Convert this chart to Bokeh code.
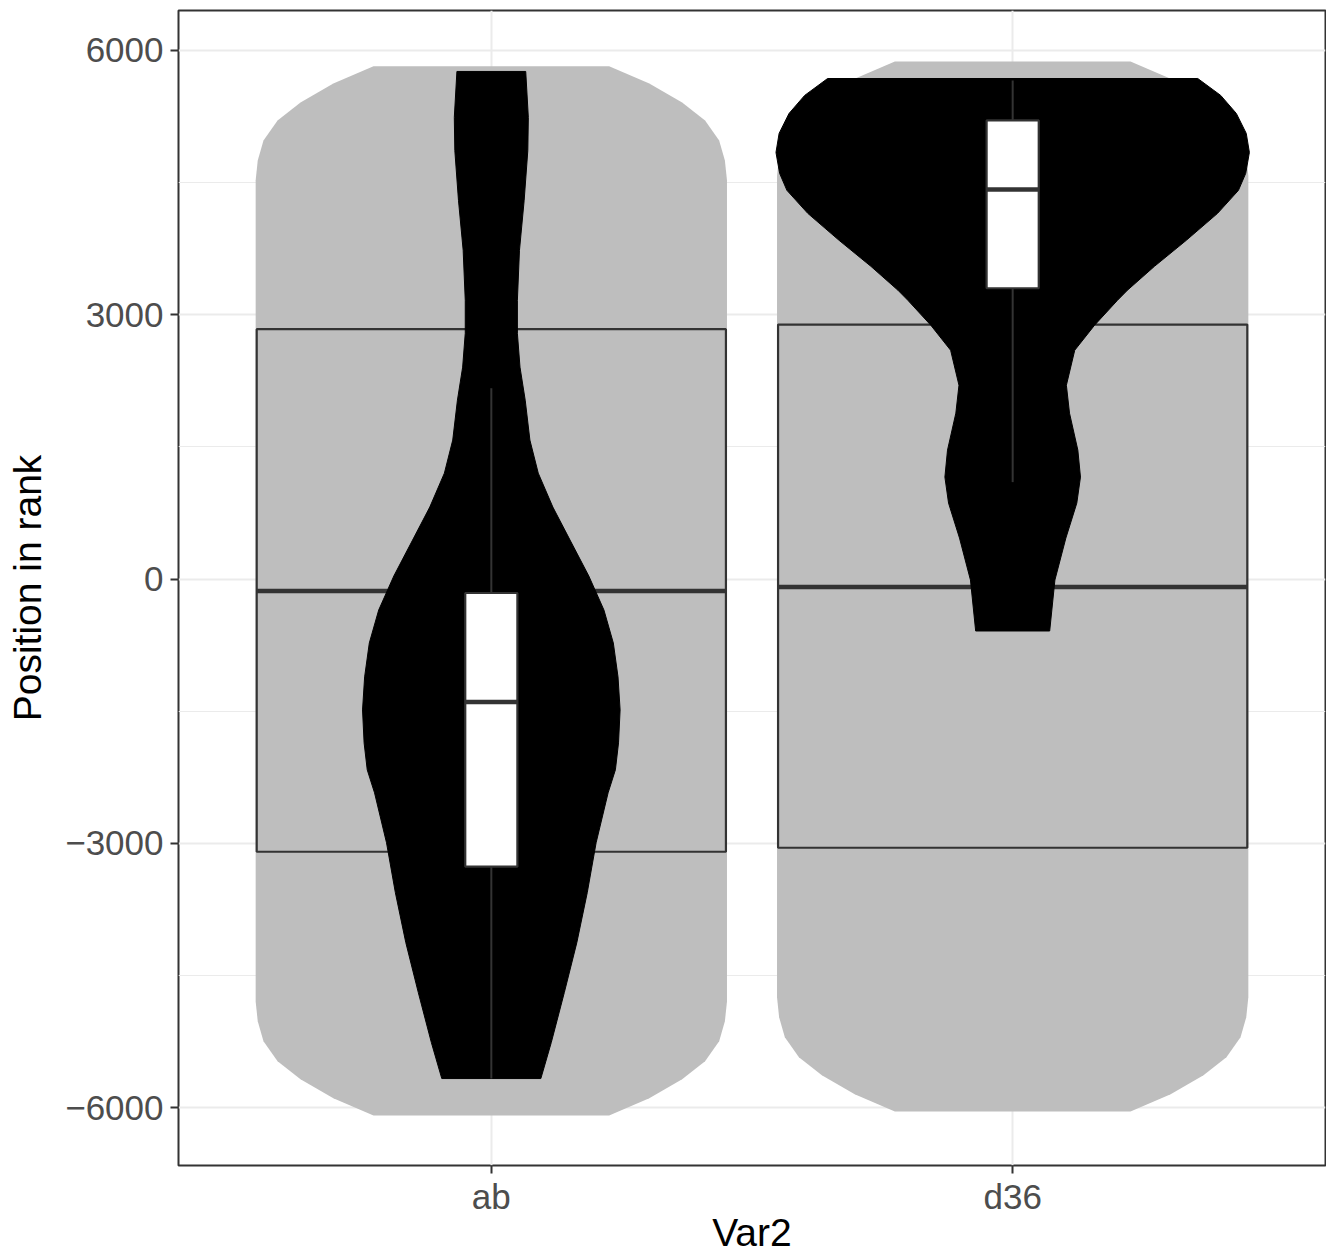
from bokeh.plotting import figure
from bokeh.models import Range1d, FixedTicker, ColumnDataSource
from bokeh.embed import file_html
from bokeh.resources import INLINE

# ---------------- data ----------------
categories = ["ab", "d36"]

# wide grey violins (y value, half-width in category units)
grey_ab_y = [-6091, -5895, -5679, -5475, -5248, -5021, -4795, 4526, 4752, 4979, 5206, 5410, 5626, 5822]
grey_ab_w = [0.226, 0.303, 0.366, 0.410, 0.437, 0.448, 0.452, 0.452, 0.448, 0.437, 0.410, 0.366, 0.303, 0.226]
grey_d36_y = [-6045, -5849, -5633, -5429, -5202, -4975, -4749, 4579, 4805, 5032, 5259, 5463, 5679, 5875]
grey_d36_w = [0.226, 0.303, 0.366, 0.410, 0.437, 0.448, 0.452, 0.452, 0.448, 0.437, 0.410, 0.366, 0.303, 0.226]

# grey (outer) boxplot statistics
outer_q1 = [-3096, -3051]
outer_med = [-136, -91]
outer_q3 = [2836, 2889]

# black violins
black_ab_y = [-5671, -5262, -4695, -4128, -3561, -2994, -2427, -2166, -1860, -1486, -1111, -726,
              -352, 34, 442, 817, 1202, 1577, 2030, 2405, 2790, 3164, 3732, 4299, 4866, 5240, 5762]
black_ab_w = [0.095, 0.115, 0.140, 0.164, 0.184, 0.201, 0.224, 0.238, 0.244, 0.247, 0.243, 0.234,
              0.216, 0.187, 0.151, 0.118, 0.090, 0.074, 0.065, 0.055, 0.050, 0.050, 0.054, 0.063,
              0.070, 0.071, 0.066]
black_d36_y = [-590, -11, 465, 862, 1157, 1463, 1883, 2200, 2597, 2881, 3164, 3278, 3550, 3845,
               4151, 4412, 4605, 4843, 5059, 5285, 5490, 5682]
black_d36_w = [0.071, 0.081, 0.102, 0.123, 0.130, 0.125, 0.109, 0.103, 0.119, 0.157, 0.201, 0.220,
               0.272, 0.333, 0.393, 0.433, 0.447, 0.454, 0.448, 0.429, 0.399, 0.355]

# white (inner) boxplot statistics
inner_lo = [-5671, 1100]
inner_q1 = [-3266, 3301]
inner_med = [-1395, 4423]
inner_q3 = [-159, 5206]
inner_hi = [2166, 5660]

y_ticks = [-6000, -3000, 0, 3000, 6000]
y_minor = [-4500, -1500, 1500, 4500]
y_tick_labels = ["\u22126000", "\u22123000", "0", "3000", "6000"]

# ---------------- styling ----------------
GREY = "#BEBEBE"
DARK = "#333333"
GRID = "#EBEBEB"
FONT = "Liberation Sans"

positions = [i + 1 for i in range(len(categories))]

p = figure(width=1326, height=1257,
           x_range=Range1d(0.4, 2.6), y_range=Range1d(-6658, 6454),
           output_backend="svg", toolbar_location=None,
           min_border_left=178, min_border_right=1, min_border_top=10, min_border_bottom=92)
p.background_fill_color = "white"
p.border_fill_color = "white"
p.outline_line_color = DARK
p.outline_line_width = 2

# axes
p.xaxis.ticker = FixedTicker(ticks=positions)
p.xaxis.major_label_overrides = {pos: c for pos, c in zip(positions, categories)}
p.yaxis.ticker = FixedTicker(ticks=y_ticks, minor_ticks=y_minor)
p.yaxis.major_label_overrides = {t: l for t, l in zip(y_ticks, y_tick_labels)}

for ax in (p.xaxis[0], p.yaxis[0]):
    ax.axis_line_color = None
    ax.major_tick_line_color = DARK
    ax.major_tick_line_width = 2
    ax.major_tick_in = 0
    ax.major_tick_out = 8
    ax.minor_tick_line_color = None
    ax.major_label_text_font = FONT
    ax.major_label_text_font_size = "35px"
    ax.major_label_text_color = "#4D4D4D"
    ax.axis_label_text_font = FONT
    ax.axis_label_text_font_size = "39px"
    ax.axis_label_text_font_style = "normal"
    ax.axis_label_text_color = "black"

p.xaxis.axis_label = "Var2"
p.yaxis.axis_label = "Position in rank"
p.xaxis.major_label_standoff = 3
p.yaxis.major_label_standoff = 7
p.xaxis.axis_label_standoff = -8
p.yaxis.axis_label_standoff = 13

p.xgrid.grid_line_color = GRID
p.xgrid.grid_line_width = 2
p.ygrid.grid_line_color = GRID
p.ygrid.grid_line_width = 2
p.ygrid.minor_grid_line_color = GRID
p.ygrid.minor_grid_line_width = 1


def violin(center, ys, ws):
    xs = [center - w for w in ws] + [center + w for w in reversed(ws)]
    yy = list(ys) + list(reversed(ys))
    return xs, yy


# grey violins
for c, ys, ws in zip(positions, [grey_ab_y, grey_d36_y], [grey_ab_w, grey_d36_w]):
    xs, yy = violin(c, ys, ws)
    p.patch(xs, yy, fill_color=GREY, line_color=None)

# grey boxplot
outer = ColumnDataSource(dict(
    left=[c - 0.45 for c in positions], right=[c + 0.45 for c in positions],
    q1=outer_q1, q3=outer_q3, med=outer_med))
p.quad(left="left", right="right", bottom="q1", top="q3", source=outer,
       fill_color=GREY, line_color=DARK, line_width=2.2)
p.segment(x0="left", x1="right", y0="med", y1="med", source=outer,
          line_color=DARK, line_width=4.5)

# black violins
for c, ys, ws in zip(positions, [black_ab_y, black_d36_y], [black_ab_w, black_d36_w]):
    xs, yy = violin(c, ys, ws)
    p.patch(xs, yy, fill_color="black", line_color="black", line_width=1)

# inner boxplot
inner = ColumnDataSource(dict(
    x=positions,
    left=[c - 0.05 for c in positions], right=[c + 0.05 for c in positions],
    lo=inner_lo, q1=inner_q1, med=inner_med, q3=inner_q3, hi=inner_hi))
p.segment(x0="x", x1="x", y0="q3", y1="hi", source=inner, line_color=DARK, line_width=2)
p.segment(x0="x", x1="x", y0="lo", y1="q1", source=inner, line_color=DARK, line_width=2)
p.quad(left="left", right="right", bottom="q1", top="q3", source=inner,
       fill_color="white", line_color=DARK, line_width=2.2)
p.segment(x0="left", x1="right", y0="med", y1="med", source=inner,
          line_color=DARK, line_width=4.5)

open("out.html", "w").write(file_html(p, INLINE))
